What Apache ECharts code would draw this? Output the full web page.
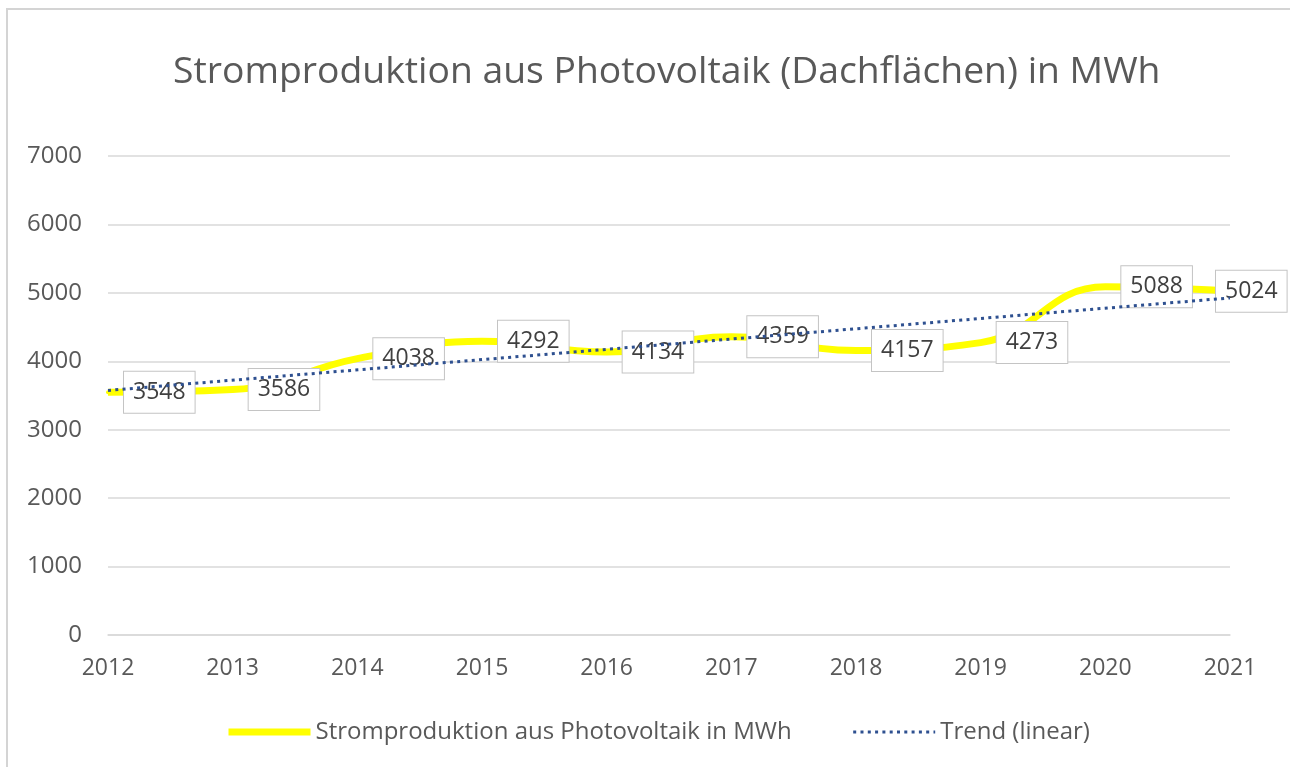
<!DOCTYPE html>
<html>
<head>
<meta charset="utf-8">
<title>Stromproduktion Photovoltaik</title>
<script type="text/javascript" src="https://cdn.jsdelivr.net/npm/echarts@6/dist/echarts.min.js"></script>
<style>
  html, body { margin: 0; padding: 0; background: #fff; }
  #main { width: 1290px; height: 767px; }
</style>
</head>
<body>
<div id="main"></div>
<script type="text/javascript">
	// Werte
	var years = ['2012', '2013', '2014', '2015', '2016', '2017', '2018', '2019', '2020', '2021'];
	var production = [3548, 3586, 4038, 4292, 4134, 4359, 4157, 4273, 5088, 5024];
	// Trendlinie: Anfangs- und Endwert
	var trendEnds = [3574, 4926];
	var yTicks = [0, 7000, 1000];

	var grey = '#595959';
	var font = 'Open Sans';

	var chart = echarts.init(document.getElementById('main'));

	var prodData = production.map(function (v, i) {
		var item = { value: v };
		if (i === production.length - 1) {
			item.label = { offset: [-30, 0] };
		}
		return item;
	});

	var option = {
		backgroundColor: '#ffffff',
		animation: false,
		graphic: [{
			type: 'rect',
			shape: { x: 7, y: 9, width: 1320, height: 800 },
			style: { fill: 'none', stroke: '#d4d4d4', lineWidth: 2 },
			silent: true
		}],
		title: {
			text: 'Stromproduktion aus Photovoltaik (Dachflächen) in MWh',
			left: 168,
			top: 49,
			textStyle: { fontFamily: font, fontSize: 37.3, fontWeight: 'normal', color: grey }
		},
		legend: {
			left: 220,
			top: 715,
			itemWidth: 82,
			itemHeight: 8,
			itemGap: 60,
			itemStyle: { opacity: 0 },
			textStyle: { fontFamily: font, fontSize: 24, color: grey },
			data: [
				{ name: 'Stromproduktion aus Photovoltaik in MWh', lineStyle: { width: 7 } },
				{ name: 'Trend (linear)', lineStyle: { width: 3 } }
			]
		},
		grid: { left: 108, right: 60, top: 156, bottom: 132 },
		xAxis: {
			type: 'category',
			data: years,
			boundaryGap: false,
			axisLine: { lineStyle: { color: '#d9d9d9', width: 1.5 } },
			axisTick: { show: false },
			axisLabel: { fontFamily: font, fontSize: 23, color: grey, margin: 22 }
		},
		yAxis: {
			type: 'value',
			min: yTicks[0],
			max: yTicks[1],
			interval: yTicks[2],
			axisLine: { show: false },
			axisTick: { show: false },
			splitLine: { lineStyle: { color: '#d9d9d9', width: 1.5 } },
			axisLabel: {
				fontFamily: font, fontSize: 24, color: grey, margin: 26,
				formatter: function (v) { return String(v); }
			}
		},
		series: [{
			name: 'Stromproduktion aus Photovoltaik in MWh',
			type: 'line',
			z: 2,
			smooth: 0.45,
			symbol: 'circle',
			symbolSize: 4,
			itemStyle: { color: '#ffff00' },
			lineStyle: { color: '#ffff00', width: 7 },
			label: {
				show: true,
				position: 'right',
				distance: 14,
				fontFamily: font,
				fontSize: 23,
				color: '#404040',
				backgroundColor: '#ffffff',
				borderColor: '#c4c4c4',
				borderWidth: 1,
				padding: [8, 9, 7, 9],
				lineHeight: 26
			},
			data: prodData
		}, {
			name: 'Trend (linear)',
			type: 'line',
			z: 5,
			symbol: 'none',
			itemStyle: { color: '#2e5090' },
			lineStyle: { color: '#2e5090', width: 3, type: [3, 4.3] },
			data: [[years[0], trendEnds[0]], [years[years.length - 1], trendEnds[1]]]
		}]
	};

	chart.setOption(option);
</script>
</body>
</html>
